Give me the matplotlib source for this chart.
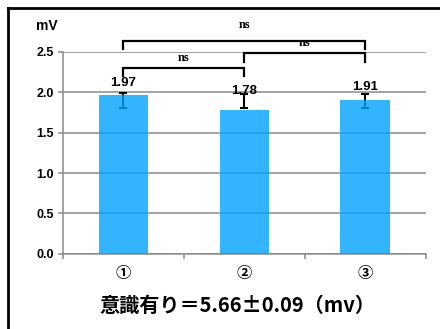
import matplotlib
matplotlib.use("Agg")
import matplotlib.pyplot as plt
from matplotlib.lines import Line2D

plt.rcParams['font.family'] = ['Noto Sans CJK JP', 'DejaVu Sans']

# Data
categories = ['①', '②', '③']
values = [1.97, 1.78, 1.91]
err_low = [1.80, 1.80, 1.80]
err_high = [1.99, 1.98, 1.98]
label_offset = [0.14, 0.24, 0.15]
yticks = [0.0, 0.5, 1.0, 1.5, 2.0, 2.5]
# significance brackets: (left bar, right bar, bar height, drop end, text height, text)
brackets = [(0, 1, 2.30, 2.20, 2.42, 'ns'),
            (1, 2, 2.49, 2.37, 2.61, 'ns'),
            (0, 2, 2.64, 2.54, 2.84, 'ns')]
unit_label = 'mV'
xlabel = '意識有り＝5.66±0.09（mv）'

W, H = 440, 329
fig = plt.figure(figsize=(W / 100, H / 100), dpi=100)
ax = fig.add_axes([63 / W, 1 - 253.7 / H, (425.7 - 63) / W, (253.7 - 52) / H])

x = list(range(len(categories)))
grid_c = '#8a8a8a'
num_font = ['Liberation Sans', 'DejaVu Sans']

ax.set_ylim(0, 2.5)
ax.set_xlim(-0.5, 2.5)
ax.set_yticks(yticks)
ax.set_yticklabels([f'{t:.1f}' for t in yticks], fontsize=9, fontweight='bold',
                   family=num_font)
ax.yaxis.grid(True, color=grid_c, lw=1.1)
ax.set_axisbelow(True)

ax.set_xticks(x)
ax.set_xticklabels(categories, fontsize=11, fontweight='bold')
ax.set_xticks([-0.5, 0.5, 1.5, 2.5], minor=True)
ax.tick_params(axis='x', which='major', length=0, pad=8)
ax.tick_params(axis='x', which='minor', length=3.5, color=grid_c, width=1.1, direction='out')
ax.tick_params(axis='y', length=3.5, color=grid_c, width=1.1, pad=3)

for s in ['top', 'right']:
    ax.spines[s].set_visible(False)
for s in ['left', 'bottom']:
    ax.spines[s].set_color(grid_c)
    ax.spines[s].set_linewidth(1.1)

# error bars sit behind slightly translucent bars
spans = [[0] * len(x), [h - l for h, l in zip(err_high, err_low)]]
ax.errorbar(x, err_low, yerr=spans, fmt='none', ecolor='black', elinewidth=1.5,
            capsize=3, capthick=1.5, zorder=2)
ax.bar(x, values, width=0.41, color=(0.0, 162 / 255, 1.0), alpha=0.8, zorder=3)

for xi, v, off in zip(x, values, label_offset):
    ax.text(xi, v + off, f'{v:.2f}', ha='center', va='center', fontsize=9.5,
            fontweight='bold', family=num_font, zorder=5)

for a, b, yh, yd, yt, txt in brackets:
    ax.plot([a, a, b, b], [yd, yh, yh, yd], color='black', lw=1.6, clip_on=False, zorder=4,
            solid_joinstyle='miter')
    ax.text((a + b) / 2, yt, txt, ha='center', va='center', fontsize=9,
            fontweight='bold', family=['Liberation Serif'], clip_on=False)

fig.text(47 / W, 1 - 26 / H, unit_label, ha='center', va='center', fontsize=10,
         fontweight='bold', family=num_font)
fig.text(237 / W, 1 - 305 / H, xlabel, ha='center', va='center', fontsize=14.5,
         fontweight='bold')

# outer frame
fig.add_artist(Line2D([8 / W, 1.0], [1 - 7.5 / H] * 2, transform=fig.transFigure,
                      color='black', lw=2))
fig.add_artist(Line2D([8 / W] * 2, [0.0, 1 - 7.5 / H], transform=fig.transFigure,
                      color='black', lw=2))

fig.savefig('out.png', dpi=100)
